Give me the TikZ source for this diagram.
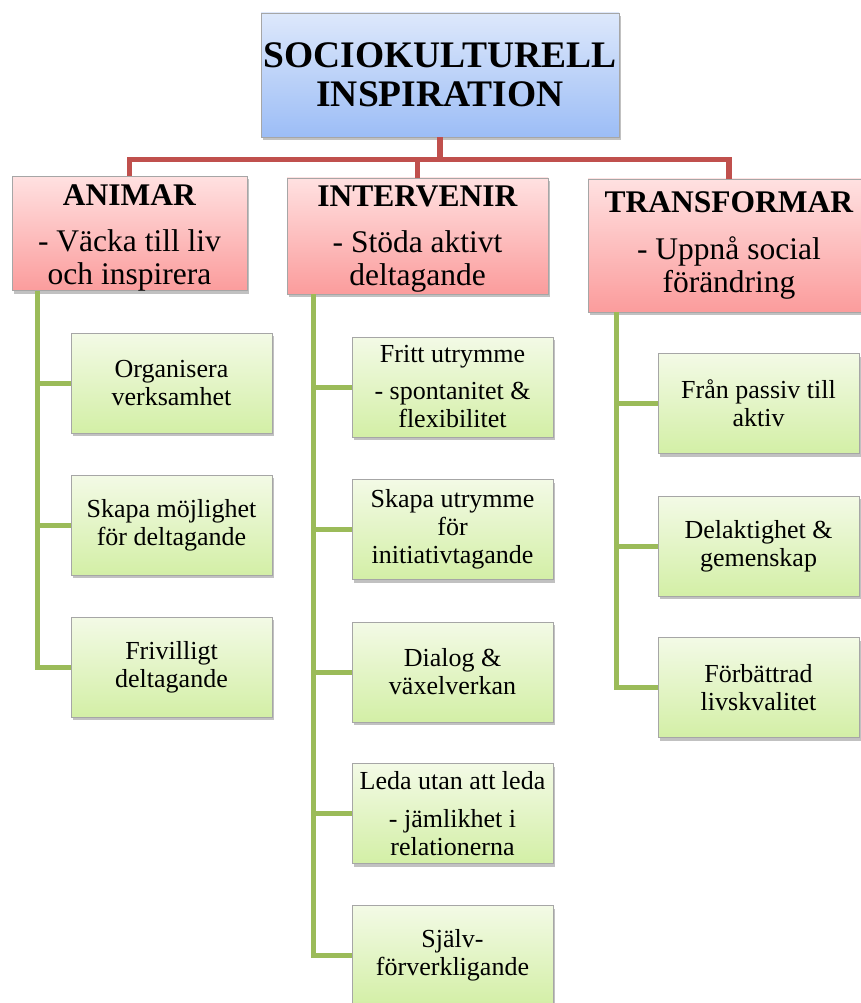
\documentclass[tikz,border=0pt]{standalone}
\usepackage{fontspec}
\setmainfont{Liberation Serif}
\usetikzlibrary{shadows,calc}
\definecolor{redline}{HTML}{C0504D}
\definecolor{greenline}{HTML}{9BBB59}
\definecolor{boxborder}{HTML}{A6A6A6}
\definecolor{bluetop}{HTML}{DDE8FB}
\definecolor{bluebot}{HTML}{9CBDF6}
\definecolor{redtop}{HTML}{FFE1E1}
\definecolor{redbot}{HTML}{FB9C9C}
\definecolor{greentop}{HTML}{F3FAE6}
\definecolor{greenbot}{HTML}{D3EFA6}
\tikzset{
  basebox/.style={draw=boxborder, line width=0.8pt, align=center, inner sep=0pt,
    drop shadow={shadow xshift=2pt, shadow yshift=-3pt, opacity=0.35, fill=black!70}},
  topbox/.style={basebox, top color=bluetop, bottom color=bluebot,
    minimum width=358pt, minimum height=124pt, font=\fontsize{37.5}{39}\selectfont\bfseries},
  redbox/.style={basebox, top color=redtop, bottom color=redbot,
    font=\fontsize{31.5}{33}\selectfont},
  greenbox/.style={basebox, top color=greentop, bottom color=greenbot,
    minimum width=201pt, minimum height=100pt, font=\fontsize{26}{28}\selectfont},
  redconn/.style={draw=redline, line width=5.5pt},
  greenconn/.style={draw=greenline, line width=5pt, line join=miter},
}
\begin{document}
\begin{tikzpicture}[x=1pt,y=1pt]
\useasboundingbox (0,0) rectangle (861,-1003);
% top
\node[topbox] (top) at (440,-75) {SOCIOKULTURELL\\INSPIRATION};
% red boxes
\node[redbox, minimum width=235pt, minimum height=111pt] (anim) at (129.5,-233.5)
  {\rule{0pt}{29pt}\textbf{ANIMAR}\\[13pt]- Väcka till liv\\och inspirera};
\node[redbox, minimum width=261pt, minimum height=116pt] (inter) at (417.5,-236)
  {\rule{0pt}{26pt}\textbf{INTERVENIR}\\[13pt]- Stöda aktivt\\deltagande};
\node[redbox, minimum width=282pt, minimum height=133pt] (trans) at (729,-245.5)
  {\textbf{TRANSFORMAR}\\[14pt]- Uppnå social\\förändring};
% left greens
\node[greenbox] (a1) at (171.5,-383) {Organisera\\verksamhet};
\node[greenbox] (a2) at (171.5,-525) {Skapa möjlighet\\för deltagande};
\node[greenbox] (a3) at (171.5,-667) {Frivilligt\\deltagande};
% middle greens
\node[greenbox] (b1) at (452.5,-387) {Fritt utrymme\\[9pt]- spontanitet \&\\flexibilitet};
\node[greenbox] (b2) at (452.5,-529.5) {Skapa utrymme\\för\\initiativtagande};
\node[greenbox] (b3) at (452.5,-672) {Dialog \&\\växelverkan};
\node[greenbox] (b4) at (452.5,-813.5) {Leda utan att leda\\[10pt]- jämlikhet i\\relationerna};
\node[greenbox] (b5) at (452.5,-955.5) {Själv-\\förverkligande};
% right greens
\node[greenbox] (c1) at (758.5,-403.5) {Från passiv till\\aktiv};
\node[greenbox] (c2) at (758.5,-546) {Delaktighet \&\\gemenskap};
\node[greenbox] (c3) at (758.5,-687.5) {Förbättrad\\livskvalitet};
% red connectors
\coordinate (rj) at ($(top.south)+(0,-22)$);
\draw[redconn] (top.south) -- (rj) -| (anim.north);
\draw[redconn] (rj) -| (inter.north);
\draw[redconn] (rj) -| (trans.north);
% green connectors
\coordinate (ta) at ([xshift=26pt]anim.south west);
\coordinate (tb) at ([xshift=27pt]inter.south west);
\coordinate (tc) at ([xshift=29pt]trans.south west);
\foreach \n in {a1,a2,a3} \draw[greenconn] (ta) |- (\n.west);
\foreach \n in {b1,b2,b3,b4,b5} \draw[greenconn] (tb) |- (\n.west);
\foreach \n in {c1,c2,c3} \draw[greenconn] (tc) |- (\n.west);
\end{tikzpicture}
\end{document}
